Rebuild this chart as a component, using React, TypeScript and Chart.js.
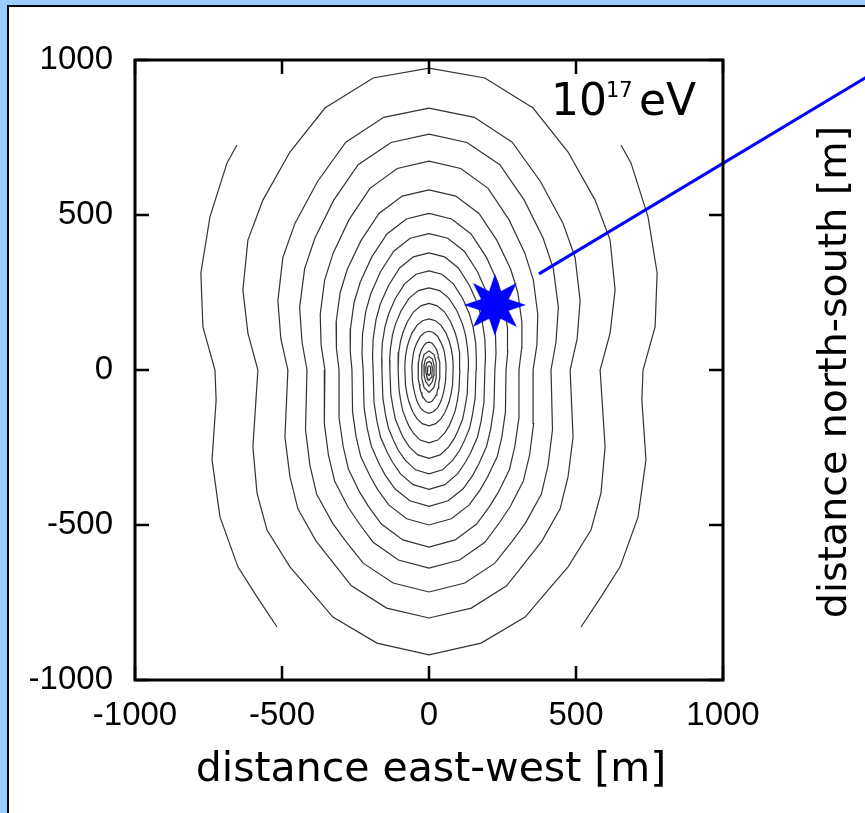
import { useEffect, useRef } from "react";
import { Chart, registerables } from "chart.js";

Chart.register(...registerables);

// axis ticks
const xTicks = [-1000, -500, 0, 500, 1000];
const yTicks = [-1000, -500, 0, 500, 1000];

// contour lines: left half (x <= 0), listed from top to bottom; mirrored to the right
const contour1 = [[0,974],[-190,942],[-354,845],[-473,703],[-565,548],[-616,419],[-633,258],[-616,119],[-582,0],[-599,-248],[-585,-397],[-551,-516],[-473,-635],[-405,-710],[-327,-797],[-177,-881],[0,-919]];
const contour2 = [[0,845],[-154,815],[-283,735],[-379,608],[-456,473],[-497,363],[-514,224],[-504,101],[-480,0],[-490,-216],[-473,-344],[-446,-448],[-384,-552],[-331,-616],[-264,-696],[-144,-768],[0,-800]];
const contour3 = [[0,761],[-129,734],[-241,662],[-324,548],[-388,426],[-423,327],[-440,202],[-432,91],[-415,0],[-420,-193],[-405,-308],[-382,-401],[-328,-494],[-284,-551],[-224,-623],[-122,-687],[0,-716]];
const contour4 = [[0,674],[-108,650],[-201,586],[-272,485],[-326,377],[-355,290],[-370,179],[-367,81],[-354,0],[-356,-173],[-342,-275],[-321,-358],[-276,-441],[-240,-492],[-190,-556],[-104,-613],[0,-639]];
const contour5 = [[0,581],[-91,561],[-170,505],[-231,418],[-278,325],[-302,250],[-316,154],[-315,70],[-306,0],[-306,-154],[-292,-246],[-274,-320],[-236,-394],[-206,-440],[-162,-497],[-89,-548],[0,-571]];
const contour6 = [[0,505],[-77,487],[-143,439],[-195,364],[-234,283],[-255,217],[-267,134],[-268,61],[-262,0],[-260,-135],[-248,-215],[-232,-280],[-199,-345],[-175,-385],[-137,-435],[-76,-480],[0,-500]];
const contour7 = [[0,440],[-64,425],[-120,383],[-165,317],[-198,246],[-215,189],[-226,117],[-228,53],[-224,0],[-221,-119],[-210,-189],[-196,-246],[-169,-304],[-149,-339],[-116,-383],[-65,-422],[0,-440]];
const contour8 = [[0,378],[-53,365],[-100,329],[-138,272],[-166,212],[-180,163],[-190,100],[-192,45],[-190,0],[-187,-104],[-177,-166],[-165,-216],[-142,-266],[-125,-296],[-97,-335],[-54,-370],[0,-385]];
const contour9 = [[0,320],[-44,309],[-83,278],[-115,230],[-138,179],[-150,138],[-159,85],[-161,38],[-160,0],[-157,-90],[-148,-144],[-138,-188],[-119,-231],[-105,-258],[-81,-291],[-46,-322],[0,-335]];
const contour10 = [[0,265],[-36,256],[-68,231],[-95,191],[-114,148],[-124,114],[-131,70],[-134,32],[-133,0],[-130,-77],[-122,-123],[-114,-160],[-98,-197],[-87,-219],[-67,-248],[-38,-274],[0,-285]];
const contour11 = [[0,215],[-28,207],[-53,187],[-74,155],[-89,120],[-97,92],[-103,57],[-105,26],[-105,0],[-102,-63],[-96,-101],[-89,-132],[-77,-162],[-68,-181],[-53,-204],[-30,-226],[0,-235]];
const contour12 = [[0,165],[-22,159],[-41,144],[-58,119],[-69,92],[-75,71],[-80,44],[-82,20],[-82,0],[-80,-49],[-75,-77],[-69,-101],[-60,-124],[-53,-139],[-41,-157],[-23,-173],[0,-180]];
const contour13 = [[0,125],[-15,121],[-29,109],[-40,90],[-49,70],[-53,54],[-56,33],[-58,15],[-58,0],[-56,-38],[-52,-60],[-48,-78],[-42,-97],[-37,-108],[-29,-122],[-16,-134],[0,-140]];
const contour14 = [[0,90],[-10,87],[-18,78],[-26,65],[-31,50],[-33,39],[-36,24],[-37,11],[-37,0],[-36,-28],[-33,-45],[-31,-59],[-27,-72],[-24,-81],[-18,-91],[-10,-101],[0,-105]];
const contour15 = [[0,62],[-17,50],[-24,24],[-25,0],[-24,-26],[-17,-56],[0,-72]];
const contour16 = [[0,44],[-12,35],[-17,15],[-17,0],[-16,-18],[-11,-38],[0,-52]];
const contour17 = [[0,28],[-8,22],[-11,9],[-11,0],[-10,-12],[-7,-24],[0,-34]];
const contour18 = [[0,14],[-4,10],[-6,4],[-6,0],[-5,-6],[-4,-12],[0,-18]];
// outermost open contour (left arc; mirrored to the right)
const outerArc = [[-653,726],[-687,668],[-745,494],[-776,313],[-769,139],[-728,0],[-724,-97],[-738,-290],[-711,-474],[-650,-635],[-585,-732],[-517,-829]];

// core position marker and direction line
const starPoint = [224, 210];
const directionLine = [[374, 310], [1602, 1010]];

const closedContours = [contour1, contour2, contour3, contour4, contour5, contour6, contour7, contour8, contour9, contour10, contour11, contour12, contour13, contour14, contour15, contour16, contour17, contour18];

function toPts(arr: number[][]) {
  return arr.map(([x, y]) => ({ x, y }));
}
function closeMirror(half: number[][]) {
  const right = half.slice(1, -1).reverse().map(([x, y]) => [-x, y]);
  return [...half, ...right, half[0]];
}
function mirror(half: number[][]) {
  return half.map(([x, y]) => [-x, y]);
}

function makeStar(): HTMLCanvasElement {
  const c = document.createElement("canvas");
  const R = 31, r = 15, n = 8;
  c.width = 2 * R + 4;
  c.height = 2 * R + 4;
  const g = c.getContext("2d")!;
  g.translate(c.width / 2, c.height / 2);
  g.beginPath();
  for (let i = 0; i < 2 * n; i++) {
    const a = -Math.PI / 2 + (i * Math.PI) / n;
    const rad = i % 2 === 0 ? R : r;
    const px = rad * Math.cos(a), py = rad * Math.sin(a);
    if (i === 0) g.moveTo(px, py); else g.lineTo(px, py);
  }
  g.closePath();
  g.fillStyle = "#0000ff";
  g.fill();
  return c;
}

const framePlugin = {
  id: "frame",
  afterDraw(chart: any) {
    const { ctx, chartArea: a, scales } = chart;
    ctx.save();
    ctx.strokeStyle = "#000";
    ctx.lineWidth = 2.5;
    const tl = 14;
    ctx.beginPath();
    scales.x.ticks.forEach((t: any) => {
      const px = scales.x.getPixelForValue(t.value);
      ctx.moveTo(px, a.bottom); ctx.lineTo(px, a.bottom - tl);
      ctx.moveTo(px, a.top); ctx.lineTo(px, a.top + tl);
    });
    scales.y.ticks.forEach((t: any) => {
      const py = scales.y.getPixelForValue(t.value);
      ctx.moveTo(a.left, py); ctx.lineTo(a.left + tl, py);
      ctx.moveTo(a.right, py); ctx.lineTo(a.right - tl, py);
    });
    ctx.stroke();
    ctx.lineWidth = 3;
    ctx.strokeRect(a.left, a.top, a.right - a.left, a.bottom - a.top);

    ctx.fillStyle = "#000";
    ctx.textBaseline = "alphabetic";
    // x title
    ctx.font = "41px 'DejaVu Sans'";
    ctx.textAlign = "center";
    ctx.fillText("distance east-west [m]", 431, 781);
    // y title (right side)
    ctx.save();
    ctx.translate(846, 372);
    ctx.rotate(-Math.PI / 2);
    ctx.font = "39.5px 'DejaVu Sans'";
    ctx.fillText("distance north-south [m]", 0, 0);
    ctx.restore();
    // energy label
    ctx.textAlign = "left";
    ctx.font = "44px 'DejaVu Sans'";
    ctx.fillText("10", 551, 115);
    ctx.font = "21px 'DejaVu Sans'";
    ctx.fillText("17", 606, 97);
    ctx.font = "44px 'DejaVu Sans'";
    ctx.fillText("eV", 639, 115);
    ctx.restore();
  },
};

export default function App() {
  const ref = useRef<HTMLCanvasElement | null>(null);
  useEffect(() => {
    if (!ref.current) return;
    const contourSets = closedContours.map((c) => ({
      data: toPts(closeMirror(c)),
      showLine: true,
      borderColor: "#333333",
      borderWidth: 1.2,
      pointRadius: 0,
      tension: 0,
      fill: false,
    }));
    const arcSets = [outerArc, mirror(outerArc)].map((c) => ({
      data: toPts(c),
      showLine: true,
      borderColor: "#333333",
      borderWidth: 1.2,
      pointRadius: 0,
      tension: 0,
      fill: false,
    }));
    const chart = new Chart(ref.current, {
      type: "scatter",
      data: {
        datasets: [
          {
            data: [{ x: starPoint[0], y: starPoint[1] }],
            pointStyle: makeStar() as any,
            pointRadius: 31,
            showLine: false,
          } as any,
          {
            data: toPts(directionLine),
            showLine: true,
            borderColor: "#0000ff",
            borderWidth: 3,
            pointRadius: 0,
            clip: false,
          } as any,
          ...contourSets,
          ...arcSets,
        ],
      },
      options: {
        animation: false,
        responsive: false,
        devicePixelRatio: 1,
        layout: { padding: { top: 60, right: 142, left: 0, bottom: 0 } },
        plugins: { legend: { display: false }, tooltip: { enabled: false } },
        scales: {
          x: {
            type: "linear",
            min: -1000,
            max: 1000,
            afterBuildTicks: (s: any) => { s.ticks = xTicks.map((v) => ({ value: v })); },
            afterFit: (s: any) => { s.height = 133; },
            grid: { display: false, drawTicks: false },
            border: { display: false },
            ticks: {
              padding: 16,
              color: "#000",
              font: { family: "'Liberation Sans'", size: 33 },
              maxRotation: 0,
              autoSkip: false,
              callback: (v: any) => String(v),
            },
          },
          y: {
            type: "linear",
            min: -1000,
            max: 1000,
            afterBuildTicks: (s: any) => { s.ticks = yTicks.map((v) => ({ value: v })); },
            afterFit: (s: any) => { s.width = 135; },
            grid: { display: false, drawTicks: false },
            border: { display: false },
            ticks: {
              padding: 22,
              color: "#000",
              font: { family: "'Liberation Sans'", size: 33 },
              autoSkip: false,
              callback: (v: any) => String(v),
            },
          },
        },
      },
      plugins: [framePlugin],
    });
    return () => chart.destroy();
  }, []);
  return (
    <div style={{ position: "fixed", left: 0, top: 0, width: 865, height: 813, background: "#99ccff", overflow: "hidden" }}>
      <div style={{ position: "absolute", left: 7, top: 5, width: 1000, height: 1000, background: "#fff", border: "2px solid #000" }} />
      <canvas ref={ref} width={865} height={813} style={{ position: "absolute", left: 0, top: 0, width: 865, height: 813 }} />
    </div>
  );
}
